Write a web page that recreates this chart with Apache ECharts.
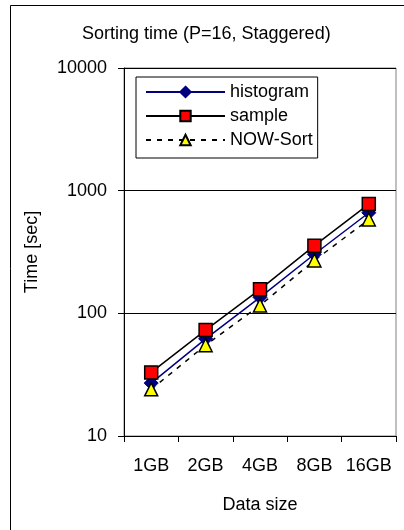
<!DOCTYPE html>
<html>
<head>
<meta charset="utf-8">
<script src="https://cdn.jsdelivr.net/npm/echarts@6/dist/echarts.min.js"></script>
<style>
html,body{margin:0;padding:0;background:#fff;}
#main{width:404px;height:530px;}
</style>
</head>
<body>
<div id="main"></div>
<script>
var categories = ['1GB', '2GB', '4GB', '8GB', '16GB'];
var histogram = [27, 62, 135, 303, 661];
var sample = [33, 73, 157, 356, 778];
var nowSort = [24, 55, 116, 270, 582];
var titleText = 'Sorting time (P=16, Staggered)';
var xName = 'Data size';
var yName = 'Time [sec]';

var FONT = '"Liberation Sans", Arial, sans-serif';
var FS = 18;
var chart = echarts.init(document.getElementById('main'), null, {renderer: 'canvas'});
chart.setOption({
  animation: false,
  backgroundColor: '#fff',
  textStyle: {fontFamily: FONT},
  title: {
    text: titleText,
    left: 82, top: 24, padding: 0,
    textStyle: {fontFamily: FONT, fontSize: FS, fontWeight: 'normal', color: '#000', lineHeight: 20}
  },
  graphic: [{
    type: 'rect', silent: true,
    shape: {x: 10.5, y: 5.5, width: 600, height: 700},
    style: {fill: 'none', stroke: '#000', lineWidth: 1}
  }],
  legend: {
    orient: 'vertical',
    left: 136, top: 77,
    padding: [6, 5, 9, 9],
    itemGap: 6,
    itemWidth: 79, itemHeight: 13,
    backgroundColor: '#fff',
    borderColor: '#000', borderWidth: 1,
    textStyle: {fontFamily: FONT, fontSize: FS, color: '#000'},
    data: ['histogram', 'sample', 'NOW-Sort']
  },
  grid: {
    left: 124, top: 68, width: 272, height: 368,
    show: true, borderColor: '#808080', borderWidth: 1, backgroundColor: 'transparent'
  },
  xAxis: {
    type: 'category',
    data: categories,
    boundaryGap: true,
    name: xName, nameLocation: 'middle', nameGap: 60,
    nameTextStyle: {fontFamily: FONT, fontSize: FS, color: '#000'},
    axisLine: {show: true, lineStyle: {color: '#000', width: 1}},
    axisTick: {show: true, length: 6, interval: 0, alignWithLabel: false, lineStyle: {color: '#000'}},
    axisLabel: {fontFamily: FONT, fontSize: FS, color: '#000', margin: 21, interval: 0},
    splitLine: {show: false}
  },
  yAxis: {
    type: 'log', logBase: 10, min: 10, max: 10000,
    name: yName, nameLocation: 'middle', nameGap: 83, nameRotate: 90,
    nameTextStyle: {fontFamily: FONT, fontSize: FS, color: '#000'},
    axisLine: {show: true, lineStyle: {color: '#000', width: 1}},
    axisTick: {show: true, length: 6, lineStyle: {color: '#000'}},
    axisLabel: {fontFamily: FONT, fontSize: FS, color: '#000', margin: 17,
      formatter: function (v) { return String(Math.round(v)); }},
    splitLine: {show: true, lineStyle: {color: '#000', width: 1}},
    minorTick: {show: false}, minorSplitLine: {show: false}
  },
  series: [
    {
      name: 'histogram', type: 'line', data: histogram,
      symbol: 'diamond', symbolSize: 14,
      lineStyle: {color: '#000080', width: 1.5},
      itemStyle: {color: '#000080', borderColor: '#000080', borderWidth: 1}
    },
    {
      name: 'sample', type: 'line', data: sample,
      symbol: 'rect', symbolSize: 13,
      lineStyle: {color: '#000', width: 1.5},
      itemStyle: {color: '#ff0000', borderColor: '#000', borderWidth: 1.5}
    },
    {
      name: 'NOW-Sort', type: 'line', data: nowSort,
      symbol: 'triangle', symbolSize: 13,
      lineStyle: {color: '#000', width: 1.5, type: [5, 6]},
      itemStyle: {color: '#ffff00', borderColor: '#000', borderWidth: 1.5}
    }
  ]
});
</script>
</body>
</html>
